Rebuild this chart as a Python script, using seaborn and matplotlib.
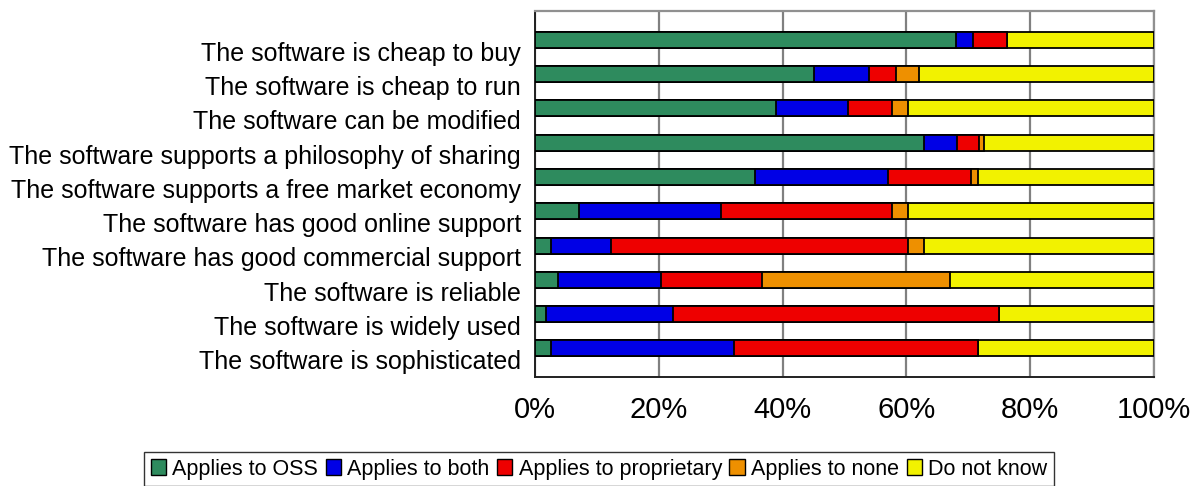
import matplotlib
matplotlib.use("Agg")
import matplotlib.pyplot as plt
from matplotlib.patches import Patch
from matplotlib import font_manager
import seaborn as sns
import pandas as pd
import numpy as np

categories = [
    "The software is cheap to buy",
    "The software is cheap to run",
    "The software can be modified",
    "The software supports a philosophy of sharing",
    "The software supports a free market economy",
    "The software has good online support",
    "The software has good commercial support",
    "The software is reliable",
    "The software is widely used",
    "The software is sophisticated",
]
series_names = ["Applies to OSS", "Applies to both", "Applies to proprietary",
                "Applies to none", "Do not know"]
oss         = [68.0, 45.0, 39.0, 62.8, 35.6, 7.1, 2.6, 3.7, 1.8, 2.6]
both        = [2.7, 9.0, 11.6, 5.3, 21.5, 23.0, 9.7, 16.7, 20.5, 29.6]
proprietary = [5.5, 4.4, 7.0, 3.6, 13.3, 27.5, 48.0, 16.3, 52.7, 39.3]
none_       = [0.0, 3.7, 2.7, 0.9, 1.1, 2.7, 2.5, 30.3, 0.0, 0.0]
dont_know   = [23.8, 37.9, 39.7, 27.4, 28.5, 39.7, 37.2, 33.0, 25.0, 28.5]
xtick_labels = ["0%", "20%", "40%", "60%", "80%", "100%"]

colors = ["#2E8B5E", "#0000E6", "#EE0000", "#EE9000", "#F2F200"]

sns.set_style("white")
names = [f.name for f in font_manager.fontManager.ttflist]
fam = "Liberation Sans Narrow" if "Liberation Sans Narrow" in names else "Liberation Sans"
plt.rcParams["font.family"] = [fam, "DejaVu Sans"]
plt.rcParams["text.color"] = "black"

df = pd.DataFrame({"category": categories, series_names[0]: oss, series_names[1]: both,
                   series_names[2]: proprietary, series_names[3]: none_,
                   series_names[4]: dont_know})
cum = df[series_names].cumsum(axis=1)
tot = cum[series_names[-1]]
cum = cum.div(tot, axis=0) * 100
cum["category"] = categories

fig = plt.figure(figsize=(11.99, 4.86), dpi=100)
ax = fig.add_axes([535/1199, 1-377/486, (1154-535)/1199, (377-11)/486])

for name, col in reversed(list(zip(series_names, colors))):
    sns.barplot(data=cum, x=name, y="category", orient="h", color=col,
                width=0.467, edgecolor="black", linewidth=1.3, ax=ax,
                saturation=1, zorder=3)

n = len(categories)
ax.set_xlim(0, 100)
ax.set_ylim(n - 0.167, -0.837)
ax.set_xlabel("")
ax.set_ylabel("")
ax.set_xticks(np.arange(0, 101, 20))
ax.set_xticklabels(xtick_labels, fontsize=21)
ax.set_yticks(np.arange(n) + 0.333)
ax.set_yticklabels(categories, fontsize=18)
ax.set_yticks(np.arange(n + 1) - 0.167, minor=True)
ax.tick_params(axis="y", which="major", length=0, pad=10, labelcolor="black")
ax.tick_params(axis="y", which="minor", length=8, width=1.2, color="#404040")
ax.tick_params(axis="x", which="major", length=6, width=1.3, color="#707070", pad=8,
               labelcolor="black")
ax.grid(axis="x", color="#808080", linewidth=1.6, zorder=0)
ax.set_axisbelow(True)
for s in ["top", "right"]:
    ax.spines[s].set_color("#909090")
    ax.spines[s].set_linewidth(1.6)
for s in ["left", "bottom"]:
    ax.spines[s].set_color("#202020")
    ax.spines[s].set_linewidth(1.4)

handles = [Patch(facecolor=c, edgecolor="black", linewidth=1.0, label=l)
           for l, c in zip(series_names, colors)]
leg = fig.legend(handles=handles, loc="center", bbox_to_anchor=(599/1199, 1-469/486),
                 ncol=5, fontsize=15.5, frameon=True, fancybox=False,
                 handlelength=0.7, handleheight=0.8, handletextpad=0.3,
                 columnspacing=0.35, borderpad=0.3, edgecolor="black")
leg.get_frame().set_linewidth(1.0)
for t in leg.get_texts():
    t.set_color("black")

fig.savefig("out.png", dpi=100)
